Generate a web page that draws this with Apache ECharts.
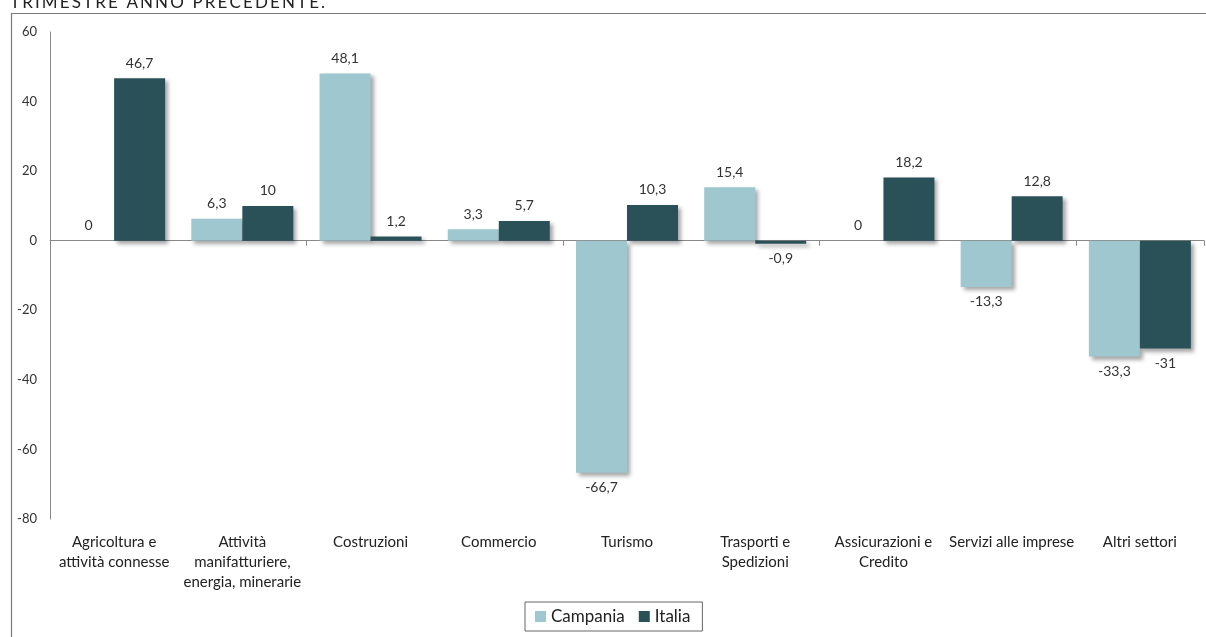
<!DOCTYPE html>
<html><head><meta charset="utf-8">
<script src="https://cdn.jsdelivr.net/npm/echarts@6/dist/echarts.min.js"></script>
<style>html,body{margin:0;padding:0;background:#fff}#c{width:1206px;height:637px}</style>
</head><body><div id="c"></div>
<script>
const categories = ["Agricoltura e\nattività connesse","Attività\nmanifatturiere,\nenergia, minerarie","Costruzioni","Commercio","Turismo","Trasporti e\nSpedizioni","Assicurazioni e\nCredito","Servizi alle imprese","Altri settori"];
const campania = [0, 6.3, 48.1, 3.3, -66.7, 15.4, 0, -13.3, -33.3];
const italia = [46.7, 10, 1.2, 5.7, 10.3, -0.9, 18.2, 12.8, -31];
const yTicks = {min: -80, max: 60, interval: 20};
const titleText = "TRIMESTRE ANNO PRECEDENTE.";

const FONT = "Lato";
const fmt = p => String(p.value).replace('.', ',');
function labelCfg(){
  return {show:true, position:'top', formatter: fmt, fontFamily:FONT, fontSize:14, color:'#333', distance:8};
}
function makeData(arr){
  return arr.map(v => ({value:v, label: v < 0 ? {position:'bottom'} : {}}));
}
const shadow = {shadowColor:'rgba(0,0,0,0.35)', shadowBlur:4, shadowOffsetX:3, shadowOffsetY:3};

const chart = echarts.init(document.getElementById('c'));
chart.setOption({
  animation:false,
  grid:{left:50, right:2, top:32, bottom:118, containLabel:false},
  graphic:{elements:[
    {type:'polyline', shape:{points:[[11.5,640],[11.5,13.5],[1210,13.5]]}, style:{stroke:'#7a7a7a', lineWidth:1.2, fill:null}, z:100},
    {type:'text', x:10, y:-6, style:{text: titleText.split('').join('\u2009'), fontFamily:FONT, fontSize:17, fill:'#222'}}
  ]},
  legend:{
    data:['Campania','Italia'], left:525, top:602,
    itemWidth:11, itemHeight:11, itemGap:14, icon:'rect',
    borderColor:'#666', borderWidth:1, padding:[6,12,6,10],
    textStyle:{fontFamily:FONT, fontSize:17, color:'#222'}
  },
  xAxis:[
    {type:'category', data:categories, axisLine:{onZero:true, lineStyle:{color:'#888'}},
     axisTick:{show:true, length:5, lineStyle:{color:'#888'}}, axisLabel:{show:false}},
    {type:'category', data:categories, position:'bottom', axisLine:{show:false, onZero:false}, axisTick:{show:false},
     axisLabel:{show:true, interval:0, margin:13, fontFamily:FONT, fontSize:15, color:'#222', lineHeight:20}}
  ],
  yAxis:{type:'value', min:yTicks.min, max:yTicks.max, interval:yTicks.interval,
    splitLine:{show:false}, axisLine:{show:true, lineStyle:{color:'#888'}}, axisTick:{show:false},
    axisLabel:{fontFamily:FONT, fontSize:13, color:'#333', margin:13}},
  series:[
    {name:'Campania', type:'bar', data:makeData(campania), barWidth:51, barGap:'0%', itemStyle:Object.assign({color:'#9fc7cf'}, shadow), label:labelCfg()},
    {name:'Italia', type:'bar', data:makeData(italia), barWidth:51, barGap:'0%', itemStyle:Object.assign({color:'#2b5158'}, shadow), label:labelCfg()}
  ]
});
</script></body></html>
